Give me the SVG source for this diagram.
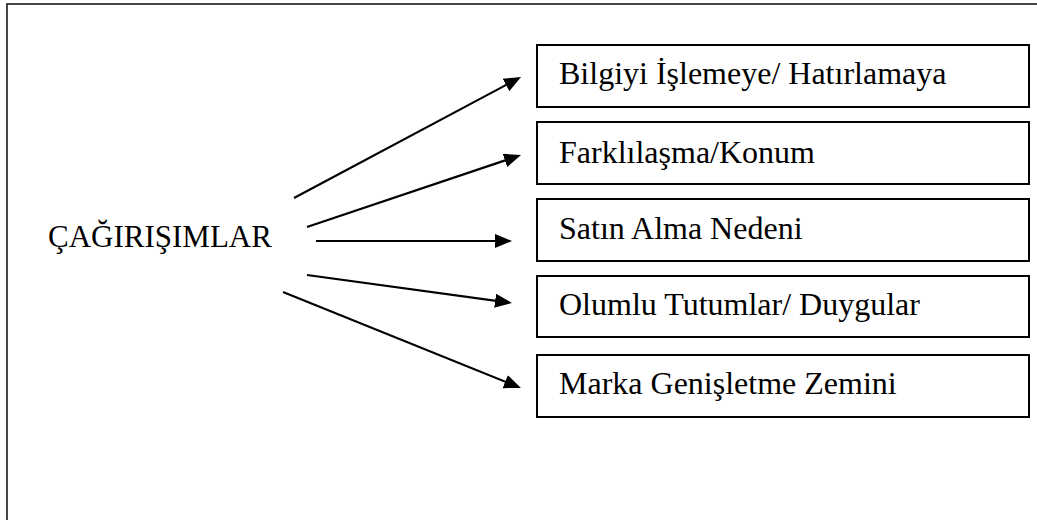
<svg xmlns="http://www.w3.org/2000/svg" width="1037" height="520" viewBox="0 0 1037 520">
  <style>
    .frame { fill: none; stroke: #1a1a1a; stroke-width: 1.6; }
    .box { fill: #ffffff; stroke: #000000; stroke-width: 2; }
    .label { font-family: "Liberation Serif", "Times New Roman", serif; font-size: 32px; fill: #000000; }
    .title { font-family: "Liberation Serif", "Times New Roman", serif; font-size: 31px; fill: #000000; }
    .link { fill: none; stroke: #000000; stroke-width: 2.2; marker-end: url(#head); }
  </style>
  <defs>
    <marker id="head" viewBox="0 0 17 14" refX="14" refY="7" markerWidth="17" markerHeight="14" markerUnits="userSpaceOnUse" orient="auto">
      <path d="M0,0 L17,7 L0,14 Z" fill="#000000"/>
    </marker>
  </defs>

  <rect width="1037" height="520" fill="#ffffff"/>
  <!-- outer frame (runs past the right and bottom edges) -->
  <rect class="frame" x="7" y="4" width="1045" height="530"/>

  <g id="source">
    <text class="title" x="48" y="247">ÇAĞIRIŞIMLAR</text>
  </g>

  <g id="connectors">
    <line class="link" x1="294" y1="198" x2="518.4" y2="78.4"/>
    <line class="link" x1="307" y1="227" x2="518.2" y2="156"/>
    <line class="link" x1="316" y1="241" x2="509" y2="241"/>
    <line class="link" x1="307" y1="275" x2="509" y2="302.6"/>
    <line class="link" x1="283" y1="292" x2="518.2" y2="386.9"/>
  </g>

  <g id="node-bilgi">
    <rect class="box" x="537" y="45" width="492" height="62"/>
    <text class="label" x="559" y="84">Bilgiyi İşlemeye/ Hatırlamaya</text>
  </g>
  <g id="node-farklilasma">
    <rect class="box" x="537" y="122" width="492" height="62"/>
    <text class="label" x="559" y="163">Farklılaşma/Konum</text>
  </g>
  <g id="node-satin-alma">
    <rect class="box" x="537" y="199" width="492" height="62"/>
    <text class="label" x="559" y="239">Satın Alma Nedeni</text>
  </g>
  <g id="node-olumlu">
    <rect class="box" x="537" y="276" width="492" height="61"/>
    <text class="label" x="559" y="315">Olumlu Tutumlar/ Duygular</text>
  </g>
  <g id="node-marka">
    <rect class="box" x="537" y="355" width="492" height="62"/>
    <text class="label" x="559" y="394">Marka Genişletme Zemini</text>
  </g>
</svg>
